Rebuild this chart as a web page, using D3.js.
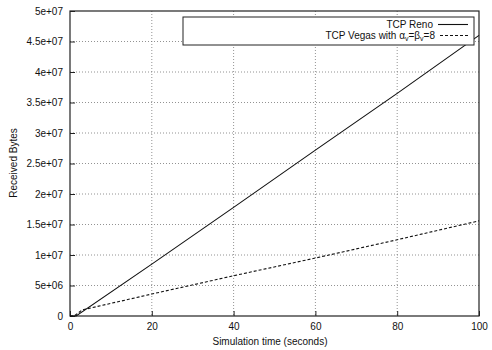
<!DOCTYPE html>
<html>
<head>
<meta charset="utf-8">
<script src="https://cdn.jsdelivr.net/npm/d3@7"></script>
<style>
body { margin: 0; background: #fff; }
text { font-family: "Liberation Sans", Arial, sans-serif; fill: #111; }
</style>
</head>
<body>
<svg id="chart" width="492" height="350"></svg>
<script>
// data
var renoT = [0, 1.5, 20, 40, 60, 80, 100];
var renoBytes = [0, 0, 8.5e6, 1.78e7, 2.72e7, 3.65e7, 4.6e7];
var vegasT = [0, 1, 3, 20, 40, 60, 80, 100];
var vegasBytes = [0, 0, 1.0e6, 3.6e6, 6.6e6, 9.5e6, 1.25e7, 1.56e7];
var xTicks = [0, 20, 40, 60, 80, 100];
var yTicks = [0, 5e6, 1e7, 1.5e7, 2e7, 2.5e7, 3e7, 3.5e7, 4e7, 4.5e7, 5e7];
var yTickLabels = ["0", "5e+06", "1e+07", "1.5e+07", "2e+07", "2.5e+07", "3e+07", "3.5e+07", "4e+07", "4.5e+07", "5e+07"];

//plot area
var pLeft = 70, pRight = 479, pTop = 11, pBottom = 316;

var svg = d3.select("#chart");
var x = d3.scaleLinear().domain([0, 100]).range([pLeft, pRight]);
var y = d3.scaleLinear().domain([0, 5e7]).range([pBottom, pTop]);

//grid
svg.append("g").selectAll("line").data(xTicks.slice(1, -1)).enter().append("line")
    .attr("x1", function(d){return x(d);}).attr("x2", function(d){return x(d);})
    .attr("y1", pTop).attr("y2", pBottom)
    .attr("stroke", "#777").attr("stroke-width", 0.8).attr("stroke-dasharray", "1,2");
svg.append("g").selectAll("line").data(yTicks.slice(1, -1)).enter().append("line")
    .attr("x1", pLeft).attr("x2", pRight)
    .attr("y1", function(d){return y(d);}).attr("y2", function(d){return y(d);})
    .attr("stroke", "#777").attr("stroke-width", 0.8).attr("stroke-dasharray", "1,2");

//axes
var xAxis = d3.axisBottom(x).tickValues(xTicks).tickSize(-5).tickPadding(7);
var yAxis = d3.axisLeft(y).tickValues(yTicks).tickSize(-5).tickPadding(7)
    .tickFormat(function(d, i){return yTickLabels[i];});
var gx = svg.append("g").attr("transform", "translate(0," + pBottom + ")").call(xAxis);
var gy = svg.append("g").attr("transform", "translate(" + pLeft + ",0)").call(yAxis);
[gx, gy].forEach(function(g) {
    g.select(".domain").remove();
    g.selectAll("line").attr("stroke", "#222");
    g.selectAll("text").attr("font-size", 10).style("font-family", "'Liberation Sans', Arial, sans-serif").attr("fill", "#111");
});

svg.append("rect").attr("x", pLeft).attr("y", pTop)
    .attr("width", pRight - pLeft).attr("height", pBottom - pTop)
    .attr("fill", "none").attr("stroke", "#222").attr("stroke-width", 1.2);

//lines
var line = d3.line().x(function(d){return x(d[0]);}).y(function(d){return y(d[1]);});
svg.append("path").datum(d3.zip(renoT, renoBytes)).attr("d", line)
    .attr("fill", "none").attr("stroke", "#111").attr("stroke-width", 1.1);
svg.append("path").datum(d3.zip(vegasT, vegasBytes)).attr("d", line)
    .attr("fill", "none").attr("stroke", "#111").attr("stroke-width", 1.1).attr("stroke-dasharray", "3,2");

//legend
var lg = svg.append("g");
lg.append("rect").attr("x", 183).attr("y", 17).attr("width", 291).attr("height", 28)
    .attr("fill", "#fff").attr("stroke", "#222").attr("stroke-width", 1);
lg.append("text").attr("x", 433).attr("y", 28).attr("text-anchor", "end")
    .attr("font-size", 10).text("TCP Reno");
lg.append("line").attr("x1", 438).attr("x2", 468).attr("y1", 24.5).attr("y2", 24.5)
    .attr("stroke", "#111").attr("stroke-width", 1.1);
var t2 = lg.append("text").attr("x", 435).attr("y", 39).attr("text-anchor", "end").attr("font-size", 10);
t2.append("tspan").text("TCP Vegas with \u03b1");
t2.append("tspan").attr("font-size", 7).attr("dy", 2).text("v");
t2.append("tspan").attr("dy", -2).text("=\u03b2");
t2.append("tspan").attr("font-size", 7).attr("dy", 2).text("v");
t2.append("tspan").attr("dy", -2).text("=8");
lg.append("line").attr("x1", 440).attr("x2", 468).attr("y1", 35.5).attr("y2", 35.5)
    .attr("stroke", "#111").attr("stroke-width", 1.1).attr("stroke-dasharray", "3,2");

//axis titles
svg.append("text").attr("x", 270).attr("y", 345).attr("text-anchor", "middle")
    .attr("font-size", 10).text("Simulation time (seconds)");
svg.append("text").attr("transform", "translate(17,163) rotate(-90)").attr("text-anchor", "middle")
    .attr("font-size", 10).text("Received Bytes");
</script>
</body>
</html>
